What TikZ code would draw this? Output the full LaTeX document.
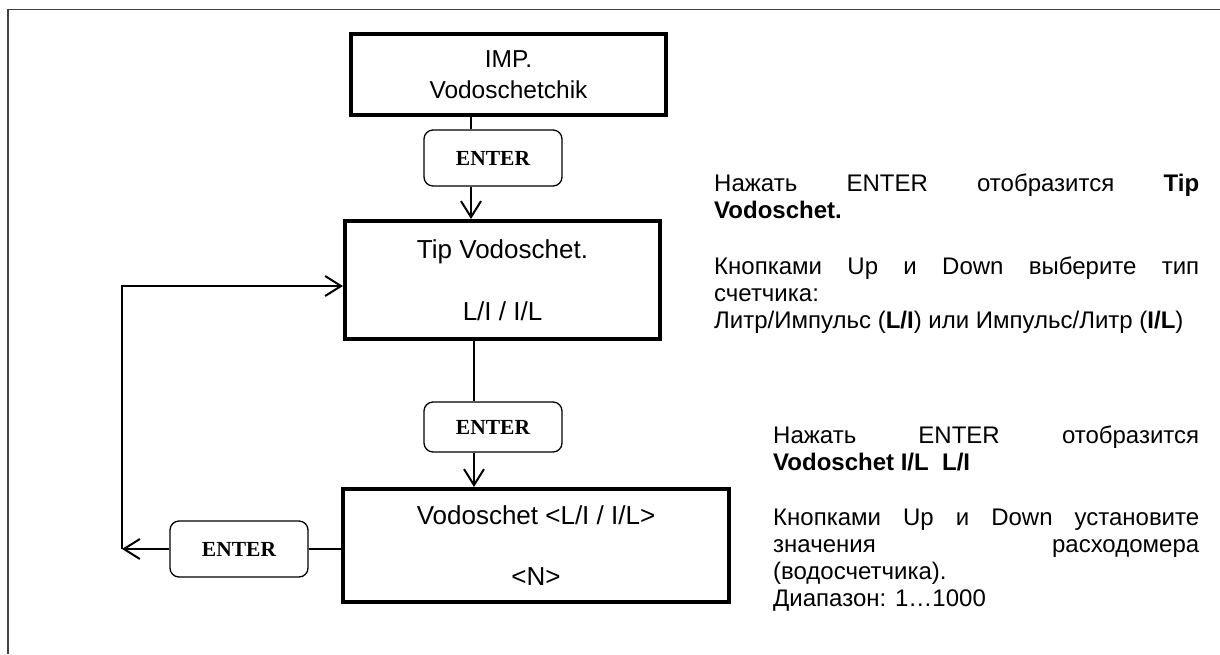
\documentclass[tikz,border=0pt]{standalone}
\usepackage{fontspec}
\setmainfont{Liberation Sans}
\newfontfamily\serifenter{Liberation Serif}
\usetikzlibrary{arrows.meta}
\begin{document}
\begin{tikzpicture}[x=1pt,y=-1pt,
  dispbox/.style={draw=black, line width=4pt, inner sep=0pt, align=center,
    font=\fontsize{26}{31}\selectfont},
  keybox/.style={draw=black, line width=1.3pt, rounded corners=9pt, inner sep=0pt,
    minimum width=138pt, font=\serifenter\bfseries\fontsize{21.5}{25}\selectfont},
  conn/.style={line width=2pt},
  arr/.style={conn, -{Straight Barb[length=16pt,width=20pt,line width=2pt]}},
  note/.style={anchor=base west, inner sep=0pt, font=\fontsize{24}{27}\selectfont},
  framel/.style={line width=1.3pt, draw=black!75}]

\useasboundingbox (0,0) rectangle (1220,654);
\fill[white] (0,0) rectangle (1220,654);

% outer frame (open at right and bottom)
\draw[framel] (8,654) -- (8,9.5) -- (1220,9.5);

% display boxes
\node[dispbox, minimum width=315pt, minimum height=81pt, font=\fontsize{24.5}{31}\selectfont] (b1) at (508.5,74.5) {IMP.\\Vodoschetchik};
\node[dispbox, minimum width=315pt, minimum height=118pt] (b2) at (502.5,280) {Tip Vodoschet.\\[31pt]L/I / I/L};
\node[dispbox, minimum width=386pt, minimum height=113pt] (b3) at (536,545.5) {Vodoschet <L/I / I/L>\\[30pt]<N>};

% keys
\node[keybox, minimum height=56pt] (k1) at (493,158) {ENTER};
\node[keybox, minimum height=50pt] (k2) at (493,427) {ENTER};
\node[keybox, minimum height=56pt] (k3) at (239,549) {ENTER};

% connectors
\coordinate (xa) at (471,0);
\coordinate (xb) at (474,0);
\coordinate (lb) at (122,549);
\coordinate (lt) at (122,286);
\draw[conn] (b1.south -| xa) -- (k1.north -| xa);
\draw[arr] (k1.south -| xa) -- (b2.north -| xa);
\draw[conn] (b2.south -| xb) -- (k2.north -| xb);
\draw[arr] (k2.south -| xb) -- (b3.north -| xb);
\draw[conn] (k3.east) -- (k3.east -| b3.west);
\draw[arr] (k3.west) -- (lb);
\draw[arr] (lb) -- (lt) -- (lt -| b2.west);

% notes, block 1
\node[note] (n1) at (714,191) {\makebox[485pt][s]{Нажать ENTER отобразится \textbf{Tip}}};
\node[note] (n2) at (714,218) {\textbf{Vodoschet.}};
\node[note] (n3) at (714,274) {\makebox[485pt][s]{Кнопками Up и Down выберите тип}};
\node[note] (n4) at (714,301) {счетчика:};
\node[note] (n5) at (714,328) {Литр/Импульс (\textbf{L/I}) или Импульс/Литр (\textbf{I/L})};

% notes, block 2
\node[note] (m1) at (773,443) {\makebox[426pt][s]{Нажать ENTER отобразится}};
\node[note] (m2) at (773,470) {\textbf{Vodoschet I/L\ \ L/I}};
\node[note] (m3) at (773,525) {\makebox[426pt][s]{Кнопками Up и Down установите}};
\node[note] (m4) at (773,552) {\makebox[426pt][s]{значения расходомера}};
\node[note] (m5) at (773,579) {(водосчетчика).};
\node[note] (m6) at (773,606) {Диапазон: 1…1000};
\end{tikzpicture}
\end{document}
